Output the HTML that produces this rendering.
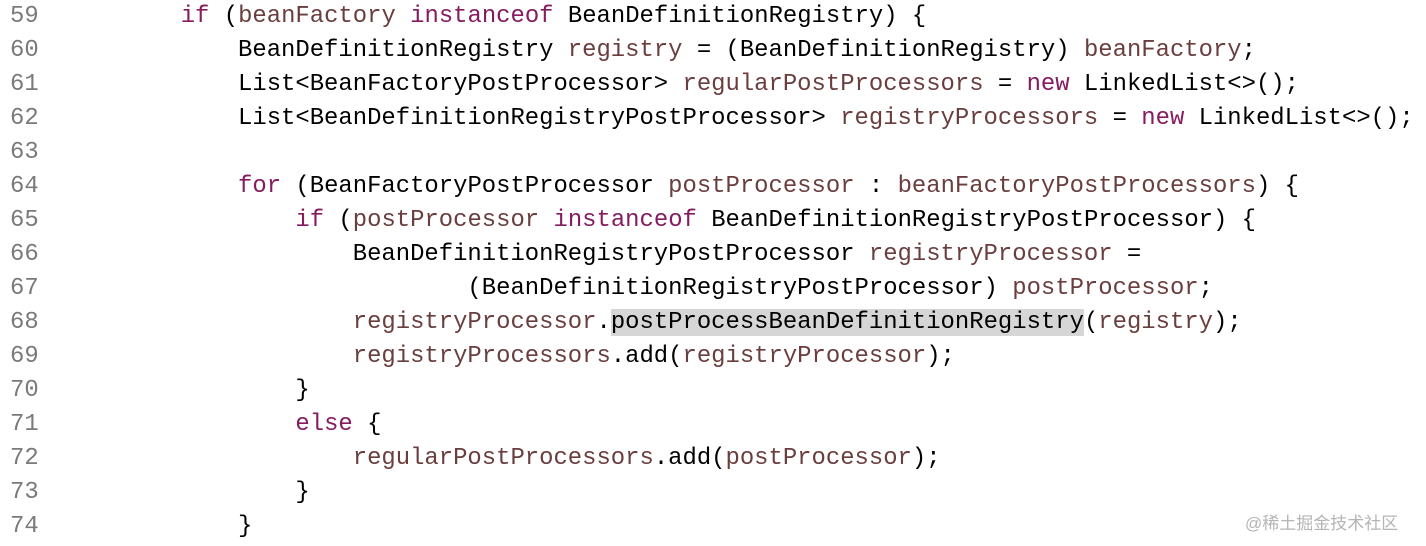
<!DOCTYPE html>
<html><head><meta charset="utf-8"><style>
html,body{margin:0;padding:0;background:#fff;width:1426px;height:546px;overflow:hidden;}
.ln{position:absolute;left:10px;top:0;font:23.9px/34px "Liberation Mono",monospace;color:#7a7a7a;white-space:pre;margin:0;}
.code{position:absolute;left:66px;top:0;font:23.9px/34px "Liberation Mono",monospace;color:#000;white-space:pre;margin:0;}
.k{color:#861b5f}.v{color:#6a3e3e}
.h{background:#d6d6d6}
.wm{position:absolute;left:1245px;top:509px;font:17px "Liberation Sans","Noto Sans CJK SC",sans-serif;color:#b5b5b5;}
</style></head><body>
<pre class="ln">59
60
61
62
63
64
65
66
67
68
69
70
71
72
73
74</pre>
<pre class="code">        <span class="k">if</span> (<span class="v">beanFactory</span> <span class="k">instanceof</span> BeanDefinitionRegistry) {
            BeanDefinitionRegistry <span class="v">registry</span> = (BeanDefinitionRegistry) <span class="v">beanFactory</span>;
            List&lt;BeanFactoryPostProcessor&gt; <span class="v">regularPostProcessors</span> = <span class="k">new</span> LinkedList&lt;&gt;();
            List&lt;BeanDefinitionRegistryPostProcessor&gt; <span class="v">registryProcessors</span> = <span class="k">new</span> LinkedList&lt;&gt;();

            <span class="k">for</span> (BeanFactoryPostProcessor <span class="v">postProcessor</span> : <span class="v">beanFactoryPostProcessors</span>) {
                <span class="k">if</span> (<span class="v">postProcessor</span> <span class="k">instanceof</span> BeanDefinitionRegistryPostProcessor) {
                    BeanDefinitionRegistryPostProcessor <span class="v">registryProcessor</span> =
                            (BeanDefinitionRegistryPostProcessor) <span class="v">postProcessor</span>;
                    <span class="v">registryProcessor</span>.<span class="h">postProcessBeanDefinitionRegistry</span>(<span class="v">registry</span>);
                    <span class="v">registryProcessors</span>.add(<span class="v">registryProcessor</span>);
                }
                <span class="k">else</span> {
                    <span class="v">regularPostProcessors</span>.add(<span class="v">postProcessor</span>);
                }
            }</pre>
<div class="wm">@稀土掘金技术社区</div>
</body></html>
